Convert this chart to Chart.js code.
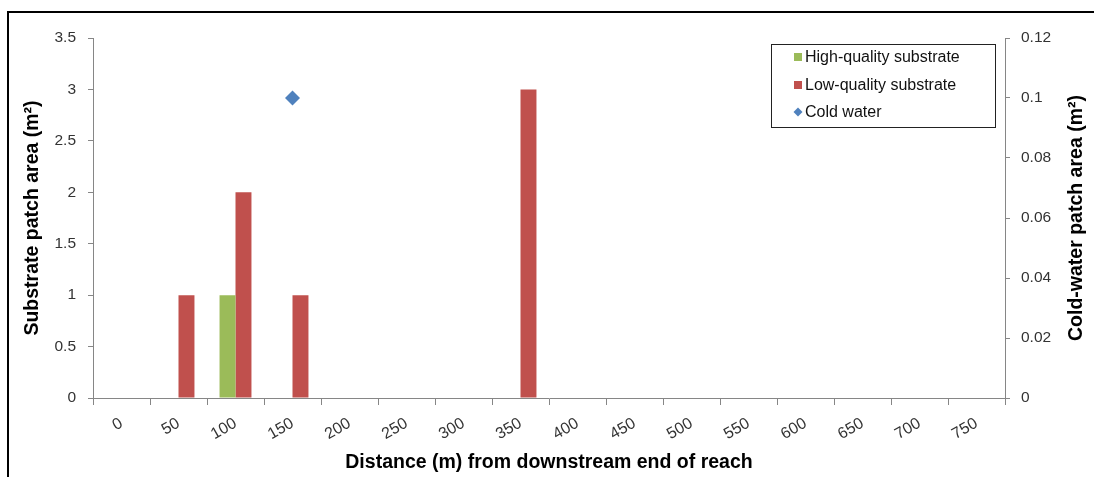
<!DOCTYPE html>
<html>
<head>
<meta charset="utf-8">
<script src="https://cdn.jsdelivr.net/npm/chart.js@4.4.1/dist/chart.umd.min.js"></script>
<style>
  html, body { margin: 0; padding: 0; background: #fff; }
  #wrap { position: relative; width: 1094px; height: 477px; overflow: hidden; }
  #frame { position: absolute; left: 7px; top: 11px; width: 1200px; height: 600px;
           border-left: 2px solid #000; border-top: 2px solid #000; }
  canvas { position: absolute; left: 0; top: 0; }
</style>
</head>
<body>
<div id="wrap">
  <div id="frame"></div>
  <canvas id="grafico" width="1094" height="477"></canvas>
</div>
<script>
const distancias = ['0', '50', '100', '150', '200', '250', '300', '350', '400', '450', '500', '550', '600', '650', '700', '750'];
const altaQualidade = [0, 0, 1, 0, 0, 0, 0, 0, 0, 0, 0, 0, 0, 0, 0, 0];
const baixaQualidade = [0, 1, 2, 1, 0, 0, 0, 3, 0, 0, 0, 0, 0, 0, 0, 0];
const aguaFria = [null, null, null, 0.1, null, null, null, null, null, null, null, null, null, null, null, null];

const fonte = 'Liberation Sans, Arial, sans-serif';
const corEixo = '#868686';
const corTexto = '#333333';

function formata(v) {
    return String(Number(v.toFixed(2)));
}

// legenda com caixa + titulo do eixo direito (lido de baixo pra cima)
const extras = {
    id: 'extras',
    afterDraw(chart) {
        const c = chart.ctx;
        c.save();
        c.strokeStyle = '#222';
        c.lineWidth = 1;
        c.strokeRect(771.5, 44.5, 224, 83);

        c.font = '16px ' + fonte;
        c.textBaseline = 'middle';
        const ds = chart.data.datasets;
        const ys = [57, 85, 112];
        ds.forEach(function (d, i) {
            const y = ys[i];
            c.fillStyle = d.backgroundColor;
            if (d.type === 'line') {
                c.beginPath();
                c.moveTo(798, y - 4.5);
                c.lineTo(802.5, y);
                c.lineTo(798, y + 4.5);
                c.lineTo(793.5, y);
                c.closePath();
                c.fill();
            } else {
                c.fillRect(794, y - 4, 8, 8);
            }
            c.fillStyle = '#111';
            c.fillText(d.label, 805, y + 1);
        });

        c.translate(1077, chart.chartArea.top + chart.chartArea.height / 2);
        c.rotate(-Math.PI / 2);
        c.font = 'bold 19.5px ' + fonte;
        c.textAlign = 'center';
        c.fillStyle = '#000';
        c.fillText('Cold-water patch area (m²)', 0, 0);
        c.restore();
    }
};

const ctx = document.getElementById('grafico');

new Chart(ctx, {
    type: 'bar',
    data: {
        labels: distancias,
        datasets: [{
            label: 'High-quality substrate',
            data: altaQualidade,
            backgroundColor: '#9BBB59',
            borderWidth: 0,
            yAxisID: 'y'
        }, {
            label: 'Low-quality substrate',
            data: baixaQualidade,
            backgroundColor: '#C0504D',
            borderWidth: 0,
            yAxisID: 'y'
        }, {
            type: 'line',
            label: 'Cold water',
            data: aguaFria,
            backgroundColor: '#4F81BD',
            borderColor: '#4F81BD',
            showLine: false,
            pointStyle: 'rectRot',
            pointRadius: 7.5,
            pointBorderWidth: 0,
            yAxisID: 'y1'
        }]
    },
    plugins: [extras],
    options: {
        responsive: false,
        animation: false,
        layout: { padding: { left: 10, right: 0, top: 38, bottom: 0 } },
        categoryPercentage: 0.56,
        barPercentage: 1,
        plugins: {
            legend: { display: false },
            tooltip: { enabled: false }
        },
        scales: {
            x: {
                afterFit: function (s) { s.height = 79; },
                grid: { drawOnChartArea: false, color: corEixo, tickLength: 7 },
                border: { color: corEixo },
                ticks: {
                    color: corTexto,
                    font: { family: fonte, size: 16 },
                    minRotation: 30,
                    maxRotation: 30,
                    padding: 9
                },
                title: {
                    display: true,
                    text: 'Distance (m) from downstream end of reach',
                    color: '#000',
                    font: { family: fonte, size: 19.5, weight: 'bold' },
                    padding: 3
                }
            },
            y: {
                position: 'left',
                min: 0,
                max: 3.5,
                afterFit: function (s) { s.width = 83; },
                grid: { drawOnChartArea: false, color: corEixo, tickLength: 5 },
                border: { color: corEixo },
                ticks: {
                    stepSize: 0.5,
                    color: corTexto,
                    font: { family: fonte, size: 15.5 },
                    padding: 12,
                    callback: formata
                },
                title: {
                    display: true,
                    text: 'Substrate patch area (m²)',
                    color: '#000',
                    font: { family: fonte, size: 19.5, weight: 'bold' },
                    padding: 11
                }
            },
            y1: {
                position: 'right',
                min: 0,
                max: 0.12,
                afterFit: function (s) { s.width = 89; },
                grid: { drawOnChartArea: false, color: corEixo, tickLength: 5 },
                border: { color: corEixo },
                ticks: {
                    stepSize: 0.02,
                    color: corTexto,
                    font: { family: fonte, size: 15.5 },
                    padding: 11,
                    callback: formata
                }
            }
        }
    }
});
</script>
</body>
</html>
